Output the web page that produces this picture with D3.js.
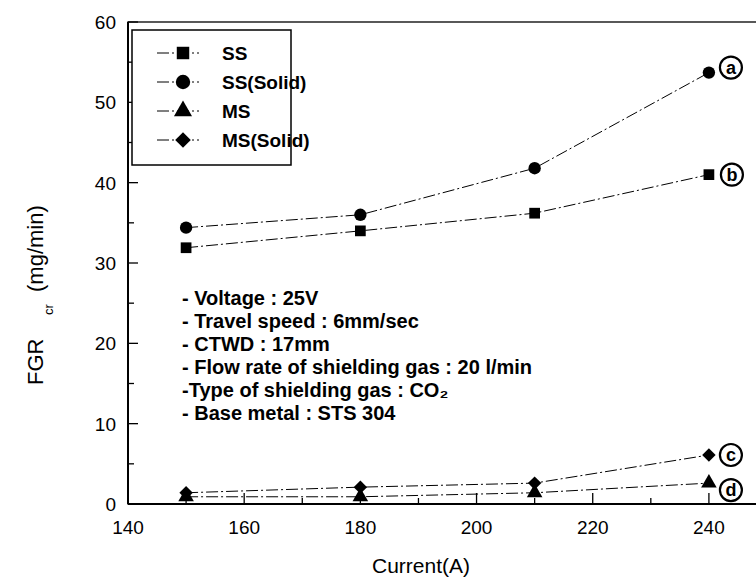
<!doctype html>
<html>
<head>
<meta charset="utf-8">
<title>FGR cr vs Current</title>
<style>
  body { margin: 0; background: #fff; }
  text { font-family: "Liberation Sans", Arial, sans-serif; fill: #000; }
</style>
</head>
<body>
<svg width="756" height="586"></svg>
<script src="https://d3js.org/d3.v7.min.js"></script>
<script>
var current = [150, 180, 210, 240];
var ss      = [31.9, 34.0, 36.2, 41.0];
var ssSolid = [34.4, 36.0, 41.8, 53.7];
var ms      = [0.9, 0.9, 1.4, 2.6];
var msSolid = [1.4, 2.1, 2.6, 6.1];

var seriesNames = ["SS", "SS(Solid)", "MS", "MS(Solid)"];
var seriesTags  = ["b", "a", "d", "c"];
var xTicks = [140, 160, 180, 200, 220, 240];
var yTicks = [0, 10, 20, 30, 40, 50, 60];
var notes = [
  "- Voltage : 25V",
  "- Travel speed : 6mm/sec",
  "- CTWD : 17mm",
  "- Flow rate of shielding gas : 20 l/min",
  "-Type of shielding gas : CO\u2082",
  "- Base metal : STS 304"
];

var svg = d3.select("svg");

var x = d3.scaleLinear().domain([140, 250]).range([128, 767]);
var y = d3.scaleLinear().domain([0, 60]).range([504, 22]);

var series = [ss, ssSolid, ms, msSolid];

// diamond as a square turned 45 degrees
var diamond = {
  draw: function(ctx, size) {
    var r = Math.sqrt(size / 2);
    ctx.moveTo(0, -r); ctx.lineTo(r, 0); ctx.lineTo(0, r); ctx.lineTo(-r, 0); ctx.closePath();
  }
};
var shapes = [d3.symbolSquare, d3.symbolCircle, d3.symbolTriangle, diamond];
var sizes = [115, 120, 105, 90];

// frame
svg.append("rect")
  .attr("x", x(140)).attr("y", y(60))
  .attr("width", x(250) - x(140)).attr("height", y(0) - y(60))
  .attr("fill", "none").attr("stroke", "#000").attr("stroke-width", 1.3);
svg.append("line")
  .attr("x1", x(140)).attr("x2", x(140)).attr("y1", y(60)).attr("y2", y(0))
  .attr("stroke", "#000").attr("stroke-width", 2);
svg.append("line")
  .attr("x1", x(140)).attr("x2", x(250)).attr("y1", y(0)).attr("y2", y(0))
  .attr("stroke", "#000").attr("stroke-width", 2);

// y axis ticks (inside)
var yMinor = d3.range(5, 60, 10);
svg.selectAll(".ytick").data(yTicks).enter().append("line")
  .attr("x1", x(140)).attr("x2", x(140) + 10)
  .attr("y1", function(d){ return y(d); }).attr("y2", function(d){ return y(d); })
  .attr("stroke", "#000").attr("stroke-width", 1.3);
svg.selectAll(".yminor").data(yMinor).enter().append("line")
  .attr("x1", x(140)).attr("x2", x(140) + 6)
  .attr("y1", function(d){ return y(d); }).attr("y2", function(d){ return y(d); })
  .attr("stroke", "#000").attr("stroke-width", 1.3);
svg.selectAll(".ylab").data(yTicks).enter().append("text")
  .attr("x", 116).attr("y", function(d){ return y(d) + 7; })
  .attr("text-anchor", "end").attr("font-size", 19)
  .text(function(d){ return d; });

// x axis ticks (inside)
var xMinor = d3.range(150, 250, 20);
svg.selectAll(".xtick").data(xTicks).enter().append("line")
  .attr("x1", function(d){ return x(d); }).attr("x2", function(d){ return x(d); })
  .attr("y1", y(0)).attr("y2", y(0) - 11)
  .attr("stroke", "#000").attr("stroke-width", 1.3);
svg.selectAll(".xminor").data(xMinor).enter().append("line")
  .attr("x1", function(d){ return x(d); }).attr("x2", function(d){ return x(d); })
  .attr("y1", y(0)).attr("y2", y(0) - 6)
  .attr("stroke", "#000").attr("stroke-width", 1.3);
svg.selectAll(".xlab").data(xTicks).enter().append("text")
  .attr("x", function(d){ return x(d); }).attr("y", 534)
  .attr("text-anchor", "middle").attr("font-size", 19)
  .text(function(d){ return d; });

// axis titles
svg.append("text")
  .attr("x", 421).attr("y", 573)
  .attr("text-anchor", "middle").attr("font-size", 21)
  .text("Current(A)");

var yt = svg.append("g").attr("transform", "translate(43,385) rotate(-90)");
yt.append("text").attr("x", 0).attr("font-size", 22).text("FGR");
yt.append("text").attr("x", 70).attr("y", 10).attr("font-size", 13).text("cr");
yt.append("text").attr("x", 93).attr("font-size", 22).text("(mg/min)");

// lines
var line = d3.line()
  .x(function(d, i){ return x(current[i]); })
  .y(function(d){ return y(d); });

series.forEach(function(s, k) {
  svg.append("path")
    .datum(s)
    .attr("d", line)
    .attr("fill", "none")
    .attr("stroke", "#000")
    .attr("stroke-width", 1)
    .attr("stroke-dasharray", "12,3,2,3");
});

// markers
series.forEach(function(s, k) {
  svg.selectAll(".m" + k).data(s).enter().append("path")
    .attr("d", d3.symbol().type(shapes[k]).size(sizes[k]))
    .attr("transform", function(d, i){ return "translate(" + x(current[i]) + "," + y(d) + ")"; })
    .attr("fill", "#000");
});

// circled tags
var tagPos = [
  [x(240) + 23, y(ss[3])],
  [x(240) + 22, y(ssSolid[3]) - 5],
  [x(240) + 22, y(ms[3]) + 7],
  [x(240) + 22, y(msSolid[3])]
];
series.forEach(function(s, k) {
  var g = svg.append("g").attr("transform", "translate(" + tagPos[k][0] + "," + tagPos[k][1] + ")");
  g.append("circle").attr("r", 11).attr("fill", "#fff").attr("stroke", "#000").attr("stroke-width", 2.2);
  g.append("text").attr("text-anchor", "middle").attr("y", 6)
    .attr("font-size", 18).attr("font-weight", "bold").text(seriesTags[k]);
});

// legend
var lg = svg.append("g");
lg.append("rect")
  .attr("x", 132).attr("y", 30).attr("width", 159).attr("height", 135)
  .attr("fill", "#fff").attr("stroke", "#000").attr("stroke-width", 1.5);
seriesNames.forEach(function(n, k) {
  var ry = 53 + k * 29;
  lg.append("line")
    .attr("x1", 157).attr("x2", 199).attr("y1", ry).attr("y2", ry)
    .attr("stroke", "#000").attr("stroke-width", 1).attr("stroke-dasharray", "12,3,2,3");
  lg.append("path")
    .attr("d", d3.symbol().type(shapes[k]).size(sizes[k] * 1.35))
    .attr("transform", "translate(183," + ry + ")")
    .attr("fill", "#000");
  lg.append("text")
    .attr("x", 222).attr("y", ry + 7).attr("font-size", 19).attr("font-weight", "bold").text(n);
});

// notes
svg.selectAll(".note").data(notes).enter().append("text")
  .attr("x", 182).attr("y", function(d, i){ return 305 + i * 23; })
  .attr("font-size", 20).attr("font-weight", "bold")
  .text(function(d){ return d; });
</script>
</body>
</html>
